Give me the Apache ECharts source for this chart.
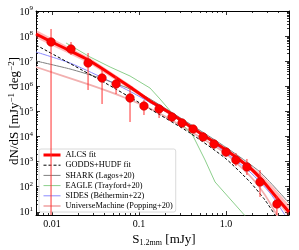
<!DOCTYPE html>
<html><head><meta charset="utf-8">
<script src="https://cdn.jsdelivr.net/npm/echarts@6/dist/echarts.min.js"></script>
<style>html,body{margin:0;padding:0;background:#fff}#c{width:299px;height:250px}</style>
</head><body><div id="c"></div>
<script>
// ---- observed number counts (S in mJy, dN/dS in mJy^-1 deg^-2) ----
const obsS  = [0.00974,0.01652,0.02594,0.03758,0.05445,0.0788,0.114,0.170,0.2393,0.312,0.418,0.545,0.728,1.0,1.30,1.74,2.46,3.85];
const obsN  = [5.82e7,3.06e7,8.47e6,2.14e6,1.24e6,3.42e5,1.64e5,1.25e5,5.98e4,3.45e4,1.99e4,9.55e3,5.02e3,2.41e3,1.16e3,610,154,20.5];
const obsHi = [1.92e8,5.82e7,2.12e7,4.46e6,2.57e6,7.8e5,2.85e5,1.80e5,8.63e4,4.98e4,2.87e4,1.51e4,7.26e3,3.48e3,2.20e3,1.27e3,462,42.7];
const obsLo = [1,1.77e7,7.13e5,1.97e5,4.93e5,3.78e4,7.19e4,5.46e4,3.78e4,2.39e4,1.38e4,6.62e3,3.18e3,1.52e3,668,292,38.9,1];

// ---- ALCS fit and its band ----
const alcsS  = [0.00654,0.01236,0.02735,0.0788,0.1337,0.2270,0.5024,1.0,1.888,2.594,3.855,5.30];
const alcsN  = [1.21e8,4.03e7,1.02e7,9.38e5,2.59e5,8.63e4,1.38e4,2.90e3,556,185,35.5,9.8];
const alcsUp = [1.75e8,5.56e7,1.34e7,1.18e6,3.12e5,1.04e5,1.66e4,3.48e3,733,292,67.5,18.7];
const alcsLo = [8.40e7,2.92e7,7.73e6,7.46e5,2.16e5,7.19e4,1.15e4,2.41e3,462,140,24.5,6.2];

// ---- other fits / models ----
const goddsS = [0.00654,0.03565,0.1337,0.3855,0.975,1.888,2.806,3.855];
const goddsN = [4.42e7,1.78e6,1.25e5,1.38e4,1.39e3,154,29.5,5.7];
const sharkS = [0.00654,0.0161,0.03565,0.0788,0.1337,0.3855,1.026,2.46,5.30];
const sharkN = [1.02e7,4.89e6,2.14e6,7.80e5,3.12e5,3.15e4,3.48e3,385,22.4];
const eagleS = [0.01449,0.01742,0.02735,0.0465,0.0788,0.1337,0.1742,0.2393,0.4178,0.5741,0.7481,1.742];
const eagleN = [5.31e7,3.68e7,1.47e7,5.87e6,2.57e6,8.55e5,3.12e5,8.63e4,1.05e4,1.16e3,154,5.7];
const sidesS = [0.00654,0.0161,0.0386,0.0853,0.227,0.5024,0.975,1.888,3.206,4.76];
const sidesN = [2.33e7,8.47e6,2.14e6,5.41e5,7.87e4,1.38e4,2.41e3,385,56.1,7.5];
const umS    = [0.00654,0.02735,0.0655,0.1527,0.3855,0.975,1.888,2.806,3.96];
const umN    = [5.87e6,1.13e6,3.75e5,1.04e5,1.66e4,2.20e3,267,46.7,6.2];

// ---- axes ----
const xTickValues = [0.01,0.1,1];
const xTickLabels = ['0.01','0.1','1.0'];
const yTickValues = [1e1,1e2,1e3,1e4,1e5,1e6,1e7,1e8,1e9];
const legendNames = ['ALCS fit','GODDS+HUDF fit','SHARK (Lagos+20)','EAGLE (Trayford+20)','SIDES (Béthermin+22)','UniverseMachine (Popping+20)'];

const X_MIN = 0.00654, X_MAX = 5.3, Y_MIN = 7.46, Y_MAX = 1e9;
const FONT = '"Liberation Serif","Times New Roman",serif';

const xMinor = [], yMinor = [];
for (let e = -3; e <= 0; e++) for (let k = 2; k <= 9; k++) { const v = k * Math.pow(10, e); if (v > X_MIN && v < X_MAX) xMinor.push(v); }
for (let e = 0; e <= 8; e++) for (let k = 2; k <= 9; k++) { const v = k * Math.pow(10, e); if (v > Y_MIN && v < Y_MAX) yMinor.push(v); }

function mkX(g, pos, ticks, len, line, labels) {
  return { type:'log', logBase:10, min:X_MIN, max:X_MAX, gridIndex:g, position:pos,
    axisLine:{show:line, onZero:false, lineStyle:{color:'#000', width:1}},
    axisTick:{show:true, inside:true, length:len, customValues:ticks, lineStyle:{color:'#000', width:0.8}},
    axisLabel: labels ? {show:true, customValues:xTickValues, margin:4, fontFamily:FONT, fontSize:10, color:'#000',
      formatter:(v)=> xTickLabels[Math.round(Math.log10(v)) + 2]} : {show:false},
    splitLine:{show:false}, minorTick:{show:false} };
}
function mkY(g, pos, ticks, len, line, labels) {
  return { type:'log', logBase:10, min:Y_MIN, max:Y_MAX, gridIndex:g, position:pos,
    axisLine:{show:line, onZero:false, lineStyle:{color:'#000', width:1}},
    axisTick:{show:true, inside:true, length:len, customValues:ticks, lineStyle:{color:'#000', width:0.8}},
    axisLabel: labels ? {show:true, customValues:yTickValues, margin:3,
      formatter:(v)=> '{b|10}{e|' + Math.round(Math.log10(v)) + '}',
      rich:{ b:{fontFamily:FONT, fontSize:10, color:'#000', lineHeight:12, verticalAlign:'bottom'},
             e:{fontFamily:FONT, fontSize:7, color:'#000', lineHeight:5, verticalAlign:'top'} } } : {show:false},
    splitLine:{show:false}, minorTick:{show:false} };
}

const pairs = (xs, ys) => xs.map((x, i) => [x, ys[i]]);
function lineSeries(name, xs, ys, color, width, type, z, smooth) {
  return { type:'line', name, data:pairs(xs, ys), symbol:'none', showSymbol:false, smooth:smooth,
    lineStyle:{color, width, type}, itemStyle:{color}, z, clip:true, silent:true };
}

const chart = echarts.init(document.getElementById('c'), null, {renderer:'canvas'});
const G = {left:36, right:10, top:11, bottom:35};
chart.setOption({
  animation:false,
  backgroundColor:'#fff',
  grid:[G, G, G, G].map(g => Object.assign({}, g)),
  xAxis:[ mkX(0,'bottom',xTickValues,4,true,true), mkX(1,'bottom',xMinor,2,false,false),
          mkX(2,'top',xTickValues,4,true,false),   mkX(3,'top',xMinor,2,false,false) ],
  yAxis:[ mkY(0,'left',yTickValues,4,true,true),   mkY(1,'left',yMinor,2,false,false),
          mkY(2,'right',yTickValues,4,true,false), mkY(3,'right',yMinor,2,false,false) ],
  legend:{ left:39, top:149, orient:'vertical', data:legendNames, itemWidth:17, itemHeight:8, itemGap:2.2,
    padding:[2,3,2,3], backgroundColor:'rgba(255,255,255,0.85)', borderColor:'#d0d0d0', borderWidth:0.8, borderRadius:2,
    itemStyle:{opacity:0, borderWidth:0}, lineStyle:{width:'inherit'},
    textStyle:{fontFamily:FONT, fontSize:8.3, color:'#000'}, selectedMode:false },
  graphic:[
    { type:'text', x:14, y:111, rotation:Math.PI/2,
      style:{ text:'{t|dN/dS [mJy}{s|−1}{t| deg}{s|−2}{t|]}', align:'center', verticalAlign:'middle',
        textAlign:'center', textVerticalAlign:'middle',
        rich:{ t:{fontFamily:FONT, fontSize:13, fill:'#000', color:'#000', lineHeight:14, verticalAlign:'bottom'},
               s:{fontFamily:FONT, fontSize:9, fill:'#000', color:'#000', lineHeight:6, verticalAlign:'top'} } } },
    { type:'text', x:164, y:240,
      style:{ text:'{t|S}{u|1.2mm}{t| [mJy]}', align:'center', verticalAlign:'middle',
        textAlign:'center', textVerticalAlign:'middle',
        rich:{ t:{fontFamily:FONT, fontSize:13, fill:'#000', color:'#000', lineHeight:14, verticalAlign:'top'},
               u:{fontFamily:FONT, fontSize:8, fill:'#000', color:'#000', lineHeight:6, verticalAlign:'bottom'} } } }
  ],
  series:[
    { type:'custom', name:'band', clip:true, z:1, silent:true, data:[[alcsS[0], alcsN[0]]],
      renderItem:(p, api) => {
        const up = alcsS.map((s, i) => api.coord([s, alcsUp[i]]));
        const lo = alcsS.map((s, i) => api.coord([s, alcsLo[i]])).reverse();
        return { type:'polygon', shape:{points:up.concat(lo)}, style:{fill:'rgba(255,60,60,0.35)'} };
      } },
    lineSeries('UniverseMachine (Popping+20)', umS, umN, '#f2b0b0', 1.8, 'solid', 2, 0.2),
    lineSeries('SIDES (Béthermin+22)', sidesS, sidesN, '#8a8aff', 1, 'solid', 2, 0.2),
    lineSeries('EAGLE (Trayford+20)', eagleS, eagleN, '#8ccf8c', 1, 'solid', 2, false),
    lineSeries('SHARK (Lagos+20)', sharkS, sharkN, '#808080', 1, 'solid', 2, 0.2),
    lineSeries('GODDS+HUDF fit', goddsS, goddsN, '#000000', 1, [3,2], 3, 0.2),
    lineSeries('ALCS fit', alcsS, alcsN, '#ff0000', 3, 'solid', 4, 0.2),
    { type:'custom', name:'errors', clip:true, z:5, silent:true,
      data:obsS.map((s, i) => [s, obsLo[i], obsHi[i]]), encode:{x:0, y:[1,2]},
      renderItem:(p, api) => {
        const a = api.coord([api.value(0), api.value(1)]);
        const b = api.coord([api.value(0), api.value(2)]);
        return { type:'line', shape:{x1:a[0], y1:a[1], x2:b[0], y2:b[1]}, style:{stroke:'#ff3030', lineWidth:1} };
      } },
    { type:'scatter', name:'ALCS', data:pairs(obsS, obsN), symbol:'circle', symbolSize:8.5, z:6, silent:true,
      itemStyle:{color:'#ff0000', borderColor:'#c80000', borderWidth:0.6, opacity:1} }
  ]
});
</script>
</body></html>
